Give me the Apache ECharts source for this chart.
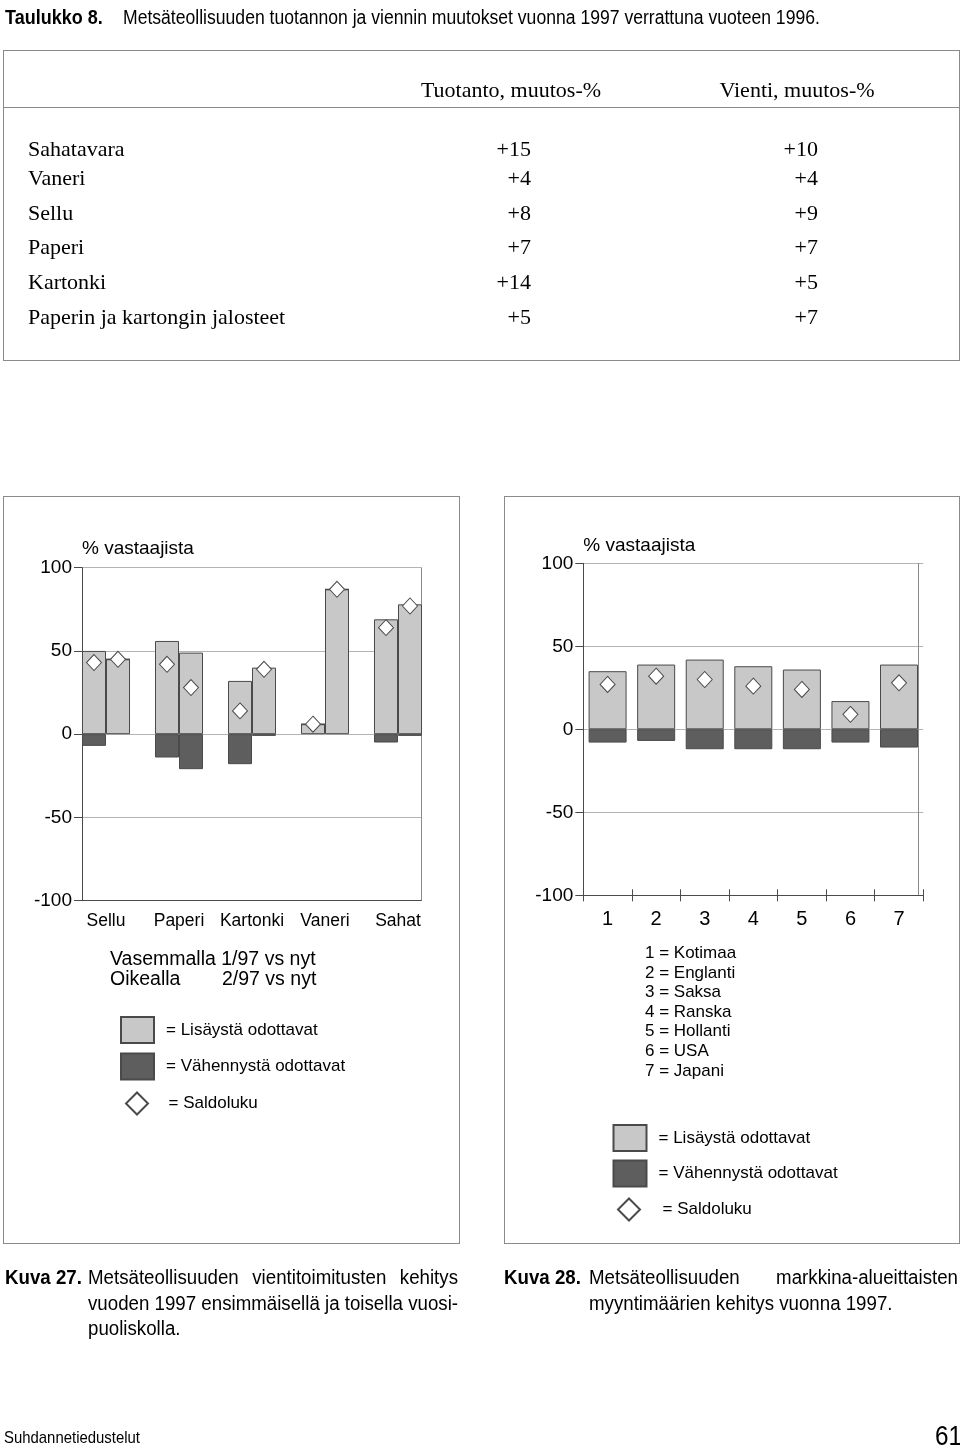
<!DOCTYPE html>
<html><head><meta charset="utf-8">
<script src="https://cdn.jsdelivr.net/npm/echarts@6/dist/echarts.min.js"></script>
<style>
html,body{margin:0;padding:0;background:#fff;}
#page{position:relative;width:960px;height:1449px;overflow:hidden;color:#000;}
.t{position:absolute;white-space:nowrap;}
.nar{font-family:'Liberation Sans',Arial,sans-serif;transform-origin:0 0;}
.sans{font-family:'Liberation Sans',Arial,sans-serif;}
.serif{font-family:'Liberation Serif','Times New Roman',serif;font-size:22px;line-height:26px;}
.box{position:absolute;border:1.5px solid #8a8a8a;box-sizing:border-box;}
.just{text-align:justify;text-align-last:justify;}
#chart{position:absolute;left:0;top:0;width:960px;height:1449px;}
</style></head>
<body><div id="page"><div id="chart"></div></div>
<script>
// ---- data ----
const tableRows = ['Sahatavara','Vaneri','Sellu','Paperi','Kartonki','Paperin ja kartongin jalosteet'];
const tuotantoChange = ['+15','+4','+8','+7','+14','+5'];
const vientiChange = ['+10','+4','+9','+7','+5','+7'];
const productCategories = ['Sellu','Paperi','Kartonki','Vaneri','Sahat'];
const increaseH1 = [50,56,32,6,69];
const decreaseH1 = [-7,-14,-18,0,-5];
const balanceH1 = [43,42,14,6,64];
const increaseH2 = [45,49,40,87,78];
const decreaseH2 = [0,-21,-1,0,-1];
const balanceH2 = [45,28,39,87,77];
const marketCategories = ['1','2','3','4','5','6','7'];
const marketNames = ['Kotimaa','Englanti','Saksa','Ranska','Hollanti','USA','Japani'];
const increaseMarket = [35,39,42,38,36,17,39];
const decreaseMarket = [-8,-7,-12,-12,-12,-8,-11];
const balanceMarket = [27,32,30,26,24,9,28];
const yMin = -100, yMax = 100, yStep = 50;
const seriesNames = ['Lisäystä odottavat','Vähennystä odottavat','Saldoluku'];

// ---- layout (positions only) ----
const rowCenters = [149,178,213,247,282,317];
const page = document.getElementById('page');
function add(html, cls, css){const d=document.createElement('div');d.className='t '+cls;d.innerHTML=html;d.style.cssText=css;page.appendChild(d);return d;}

// title
add('<b>Taulukko 8.</b>','nar','left:5px;top:5px;font-size:20px;line-height:24px;transform:scaleX(0.9);');
add('Metsäteollisuuden tuotannon ja viennin muutokset vuonna 1997 verrattuna vuoteen 1996.','nar','left:123px;top:5px;font-size:20px;line-height:24px;transform:scaleX(0.879);');
// table
add('','box','left:3px;top:50px;width:957px;height:311px;');
add('','box','left:3px;top:107px;width:957px;height:0;border-width:1.5px 0 0 0;');
add('Tuotanto, muutos-%','serif','left:411px;width:200px;text-align:center;top:77px;');
add('Vienti, muutos-%','serif','left:697px;width:200px;text-align:center;top:77px;');
tableRows.forEach((r,i)=>{
  const top = rowCenters[i]-13;
  add(r,'serif','left:28px;top:'+top+'px;');
  add(tuotantoChange[i],'serif','left:431px;width:100px;text-align:right;top:'+top+'px;');
  add(vientiChange[i],'serif','left:718px;width:100px;text-align:right;top:'+top+'px;');
});
// panels
add('','box','left:3px;top:496px;width:457px;height:748px;');
add('','box','left:504px;top:496px;width:456px;height:748px;');
// left notes
add('Vasemmalla 1/97 vs nyt','sans','left:110px;top:947px;font-size:19.5px;line-height:22px;');
add('Oikealla','sans','left:110px;top:967px;font-size:19.5px;line-height:22px;');
add('2/97 vs nyt','sans','left:222px;top:967px;font-size:19.5px;line-height:22px;');
// market list
marketCategories.forEach((c,i)=>{
  add(c+' = '+marketNames[i],'sans','left:645px;top:'+(943+i*19.6)+'px;font-size:17px;line-height:20px;');
});
// captions
const K = 0.935;
const capCss = 'font-size:20px;line-height:26px;transform:scaleX('+K+');';
add('<b>Kuva 27.</b>','nar','left:5px;top:1264px;'+capCss);
add('Metsäteollisuuden vientitoimitusten kehitys','nar just','left:88px;width:'+(370/K)+'px;top:1264px;'+capCss);
add('vuoden 1997 ensimmäisellä ja toisella vuosi-','nar just','left:88px;width:'+(370/K)+'px;top:1289.5px;'+capCss);
add('puoliskolla.','nar','left:88px;top:1315px;'+capCss);
add('<b>Kuva 28.</b>','nar','left:504px;top:1264px;'+capCss);
add('Metsäteollisuuden markkina-alueittaisten','nar just','left:589px;width:'+(369/K)+'px;top:1264px;'+capCss);
add('myyntimäärien kehitys vuonna 1997.','nar','left:589px;top:1289.5px;'+capCss);
// footer
add('Suhdannetiedustelut','nar','left:4px;top:1428px;font-size:17px;line-height:20px;transform:scaleX(0.877);');
add('61','nar','left:935px;top:1420px;font-size:27px;line-height:32px;transform:scaleX(0.9);');

// ---- chart ----
const SANS = "'Liberation Sans', Arial, sans-serif";
const LIGHT='#c8c8c8', DARK='#5e5e5e', EDGE='#4a4a4a', GRIDC='#b4b4b4', FRAME='#8a8a8a', AXIS='#4a4a4a';
const chart = echarts.init(document.getElementById('chart'), null, {renderer:'canvas'});
function valY(gi, opts){
  return Object.assign({gridIndex:gi,type:'value',min:yMin,max:yMax,interval:yStep,
    axisLine:{show:true,lineStyle:{color:AXIS,width:1}},
    axisTick:{show:true,length:8,lineStyle:{color:AXIS}},
    axisLabel:{fontSize:19,fontFamily:SANS,color:'#000',margin:10},
    splitLine:{show:true,lineStyle:{color:GRIDC,width:1}},
    name:'% vastaajista',nameLocation:'end',nameGap:19,
    nameTextStyle:{align:'left',verticalAlign:'middle',fontSize:19,fontFamily:SANS,color:'#000'}}, opts||{});
}
function frameY(gi, off){
  return {gridIndex:gi,type:'value',position:'right',offset:off,min:yMin,max:yMax,interval:yStep,
    axisLine:{show:true,lineStyle:{color:FRAME,width:1}},axisTick:{show:false},axisLabel:{show:false},splitLine:{show:false}};
}
function hiddenY(gi){return {gridIndex:gi,type:'value',min:yMin,max:yMax,interval:yStep,show:false};}
const barBase = {type:'bar',barGap:'0%'};
const diamond = {type:'scatter',symbol:'diamond',symbolSize:[15,16],z:5,
  itemStyle:{color:'#fff',borderColor:EDGE,borderWidth:1,opacity:1}};
const lightStyle = {color:LIGHT,borderColor:EDGE,borderWidth:1};
const darkStyle = {color:DARK,borderColor:EDGE,borderWidth:1};
function legends(left, top, gap, dLeft, dTop, dPad){
  const common = {orient:'vertical',padding:0,itemWidth:33,selectedMode:false,formatter:'= {name}'};
  return [
    Object.assign({},common,{left:left,top:top,itemHeight:26,itemGap:gap,
      textStyle:{fontSize:17,fontFamily:SANS,color:'#000',padding:[0,0,0,7]},
      data:[{name:seriesNames[0],icon:'rect'},{name:seriesNames[1],icon:'rect'}]}),
    Object.assign({},common,{left:dLeft,top:dTop,itemHeight:22,
      textStyle:{fontSize:17,fontFamily:SANS,color:'#000',padding:[0,0,0,dPad]},
      data:[{name:seriesNames[2],icon:'path://M12,0L24,12L12,24L0,12Z'}]})
  ];
}
const option = {
  animation:false,
  legend: legends(120,1016,8.5,125,1091.5,10).concat(legends(612.5,1124,7.5,617,1197.5,12)),
  grid:[
    {left:82,top:567.7,width:339,height:333,outerBoundsMode:'none'},
    {left:69.5,top:567.7,width:365,height:333,outerBoundsMode:'none'},
    {left:583.3,top:563.3,width:340,height:332,outerBoundsMode:'none'},
    {left:583.3,top:563.3,width:340,height:332,outerBoundsMode:'none'}
  ],
  xAxis:[
    {gridIndex:0,type:'category',data:productCategories,axisLine:{onZero:false,lineStyle:{color:AXIS}},axisTick:{show:false},axisLabel:{show:false},splitLine:{show:false}},
    {gridIndex:1,type:'category',data:productCategories,axisLine:{show:false,onZero:false},axisTick:{show:false},
      axisLabel:{interval:0,fontSize:17.5,fontFamily:SANS,color:'#000',margin:11}},
    {gridIndex:2,type:'category',data:marketCategories,axisLine:{onZero:false,lineStyle:{color:AXIS}},
      axisTick:{show:true,length:6,lineStyle:{color:AXIS}},axisLabel:{interval:0,fontSize:20,fontFamily:SANS,color:'#000',margin:14}},
    {gridIndex:3,type:'category',data:marketCategories,axisLine:{show:false,onZero:false},
      axisTick:{show:true,inside:true,length:6,lineStyle:{color:AXIS}},axisLabel:{show:false}}
  ],
  yAxis:[
    valY(0), frameY(0,0), hiddenY(1),
    valY(2,{nameGap:18}), frameY(2,-5), hiddenY(3)
  ],
  series:[
    Object.assign({},barBase,{name:seriesNames[0],xAxisIndex:1,yAxisIndex:2,stack:'h1',barWidth:24,data:increaseH1,itemStyle:lightStyle}),
    Object.assign({},barBase,{name:seriesNames[1],xAxisIndex:1,yAxisIndex:2,stack:'h1',barWidth:24,data:decreaseH1,itemStyle:darkStyle}),
    Object.assign({},barBase,{name:seriesNames[0],xAxisIndex:1,yAxisIndex:2,stack:'h2',barWidth:24,data:increaseH2,itemStyle:lightStyle}),
    Object.assign({},barBase,{name:seriesNames[1],xAxisIndex:1,yAxisIndex:2,stack:'h2',barWidth:24,data:decreaseH2,itemStyle:darkStyle}),
    Object.assign({},diamond,{name:seriesNames[2],xAxisIndex:1,yAxisIndex:2,data:balanceH1,symbolOffset:[-12,0]}),
    Object.assign({},diamond,{name:seriesNames[2],xAxisIndex:1,yAxisIndex:2,data:balanceH2,symbolOffset:[12,0]}),
    Object.assign({},barBase,{name:seriesNames[0],xAxisIndex:2,yAxisIndex:3,stack:'m',barWidth:38,data:increaseMarket,itemStyle:lightStyle}),
    Object.assign({},barBase,{name:seriesNames[1],xAxisIndex:2,yAxisIndex:3,stack:'m',barWidth:38,data:decreaseMarket,itemStyle:darkStyle}),
    Object.assign({},diamond,{name:seriesNames[2],xAxisIndex:2,yAxisIndex:3,data:balanceMarket})
  ]
};
chart.setOption(option);
</script></body></html>
